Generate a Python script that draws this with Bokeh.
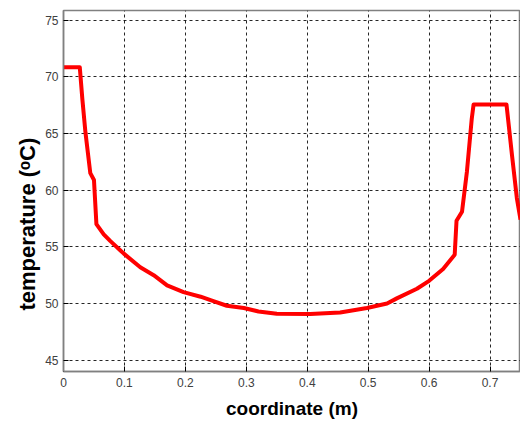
from bokeh.plotting import figure
from bokeh.models import Range1d, FixedTicker, Title
from bokeh.embed import file_html
from bokeh.resources import INLINE

coord = [0.0, 0.0267, 0.031, 0.036, 0.044, 0.050, 0.054, 0.066, 0.077, 0.093,
         0.099, 0.126, 0.148, 0.170, 0.197, 0.225, 0.246, 0.268, 0.296, 0.320,
         0.350, 0.405, 0.454, 0.498, 0.531, 0.547, 0.580, 0.600, 0.623, 0.642,
         0.645, 0.654, 0.662, 0.670, 0.673, 0.727, 0.736, 0.744, 0.750]
temp = [70.85, 70.85, 68.0, 65.1, 61.5, 60.9, 57.0, 56.1, 55.5, 54.7,
        54.4, 53.2, 52.5, 51.6, 51.0, 50.6, 50.2, 49.8, 49.6, 49.3,
        49.1, 49.07, 49.2, 49.6, 50.0, 50.45, 51.3, 52.0, 53.05, 54.3,
        57.3, 58.1, 61.6, 66.3, 67.55, 67.55, 63.1, 59.3, 57.4]

x_ticks = [0, 0.1, 0.2, 0.3, 0.4, 0.5, 0.6, 0.7]
y_ticks = [45, 50, 55, 60, 65, 70, 75]
x_title = "coordinate (m)"
y_title = "temperature (ᵒC)"

p = figure(width=520, height=421, output_backend="svg", toolbar_location=None,
           x_range=Range1d(0, 0.75), y_range=Range1d(44, 75.85),
           min_border_left=63, min_border_right=0, min_border_top=10,
           min_border_bottom=46)

p.line(coord, temp, line_color="#ff0000", line_width=4, line_join="round")

p.xaxis.ticker = FixedTicker(ticks=x_ticks)
p.yaxis.ticker = FixedTicker(ticks=y_ticks)
p.xaxis.major_label_overrides = {0: "0"}

for ax in (p.xaxis, p.yaxis):
    ax.axis_line_color = "#808080"
    ax.axis_line_width = 1.5
    ax.major_tick_in = 5
    ax.major_tick_out = 0
    ax.major_tick_line_color = "#000000"
    ax.minor_tick_line_color = None
    ax.major_label_text_font = "Liberation Sans"
    ax.major_label_text_font_size = "12px"
    ax.major_label_text_color = "#404040"

p.xaxis.axis_label = x_title
p.xaxis.axis_label_text_font = "Liberation Sans"
p.xaxis.axis_label_text_font_style = "bold"
p.xaxis.axis_label_text_color = "#000000"
p.xaxis.axis_label_text_font_size = "19px"
p.xaxis.major_label_standoff = 6
p.yaxis.major_label_standoff = 5
p.xaxis.axis_label_standoff = 8

ytitle = Title(text=y_title, align="left", offset=61,
               text_font="Liberation Sans", text_font_style="bold",
               text_font_size="22px", text_color="#000000", standoff=5)
p.add_layout(ytitle, "left")

for g in (p.xgrid, p.ygrid):
    g.grid_line_color = "#000000"
    g.grid_line_dash = "3 3"
    g.grid_line_width = 1
    g.grid_line_alpha = 0.85

p.outline_line_color = "#808080"
p.outline_line_width = 1.5
p.background_fill_color = "white"
p.border_fill_color = "white"

open("out.html", "w").write(file_html(p, INLINE))
